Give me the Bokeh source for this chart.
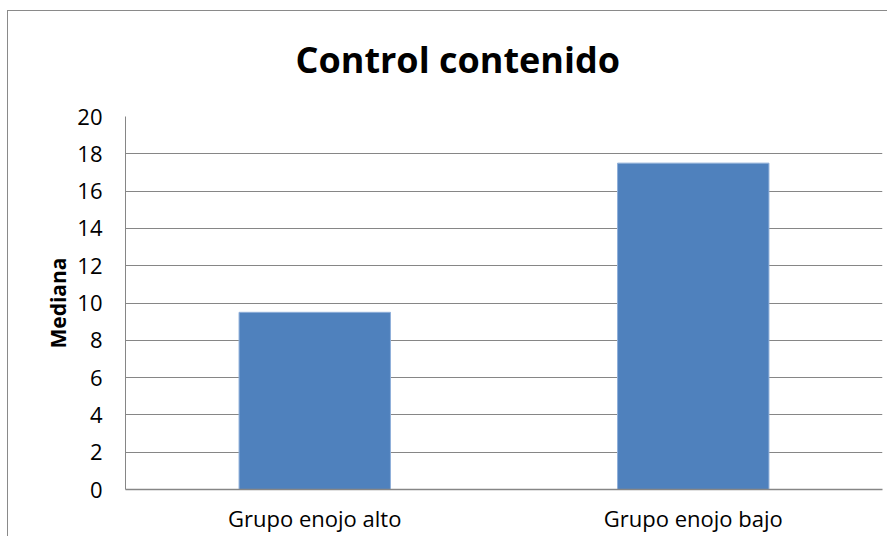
from bokeh.plotting import figure
from bokeh.models import FixedTicker, Range1d, FactorRange, Title
from bokeh.embed import file_html
from bokeh.resources import INLINE

categories = ["Grupo enojo alto", "Grupo enojo bajo"]
values = [9.5, 17.5]
y_ticks = [0, 2, 4, 6, 8, 10, 12, 14, 16, 18, 20]
title_text = "Control contenido"

p = figure(
    x_range=FactorRange(*categories),
    y_range=Range1d(0, 20),
    width=887, height=536,
    output_backend="svg", toolbar_location=None,
    min_border_left=125, min_border_right=5,
    min_border_top=116, min_border_bottom=47,
)
p.border_fill_color = None
p.background_fill_color = "#ffffff"
p.styles = {
    "background-image": "linear-gradient(#8a8a8a, #8a8a8a), linear-gradient(#8a8a8a, #8a8a8a)",
    "background-size": "1px 100%, 100% 1px",
    "background-position": "7px 10px, 7px 10px",
    "background-repeat": "no-repeat",
}

p.vbar(x=categories, top=values, width=0.4, fill_color="#4F81BD",
       line_color="#8FAFD9", line_width=1)

p.add_layout(Title(text=title_text, text_font="Open Sans",
                   text_font_size="36px", text_font_style="bold",
                   align="left", offset=170, text_color="#000000",
                   standoff=65), "above")

p.outline_line_color = None
p.xgrid.grid_line_color = None
p.ygrid.grid_line_color = "#868686"
p.ygrid.grid_line_width = 1

p.yaxis.ticker = FixedTicker(ticks=y_ticks)
p.yaxis.axis_line_color = "#868686"
p.yaxis.major_tick_line_color = None
p.yaxis.minor_tick_line_color = None
p.yaxis.major_label_standoff = 17
p.yaxis.major_label_text_font = "Open Sans"
p.yaxis.major_label_text_font_size = "22px"
p.yaxis.major_label_text_color = "#000000"
p.yaxis.axis_label = "Mediana"
p.yaxis.axis_label_text_font = "Open Sans"
p.yaxis.axis_label_text_font_size = "21px"
p.yaxis.axis_label_text_font_style = "bold"
p.yaxis.axis_label_text_color = "#000000"
p.yaxis.axis_label_standoff = 2

p.xaxis.axis_line_color = "#868686"
p.xaxis.axis_line_width = 1.5
p.xaxis.major_tick_line_color = None
p.xaxis.minor_tick_line_color = None
p.xaxis.major_label_standoff = 7
p.xaxis.major_label_text_font = "Open Sans"
p.xaxis.major_label_text_font_size = "22px"
p.xaxis.major_label_text_color = "#000000"

p.x_range.range_padding = 0
p.x_range.factor_padding = 0

open("out.html", "w").write(file_html(p, INLINE))
